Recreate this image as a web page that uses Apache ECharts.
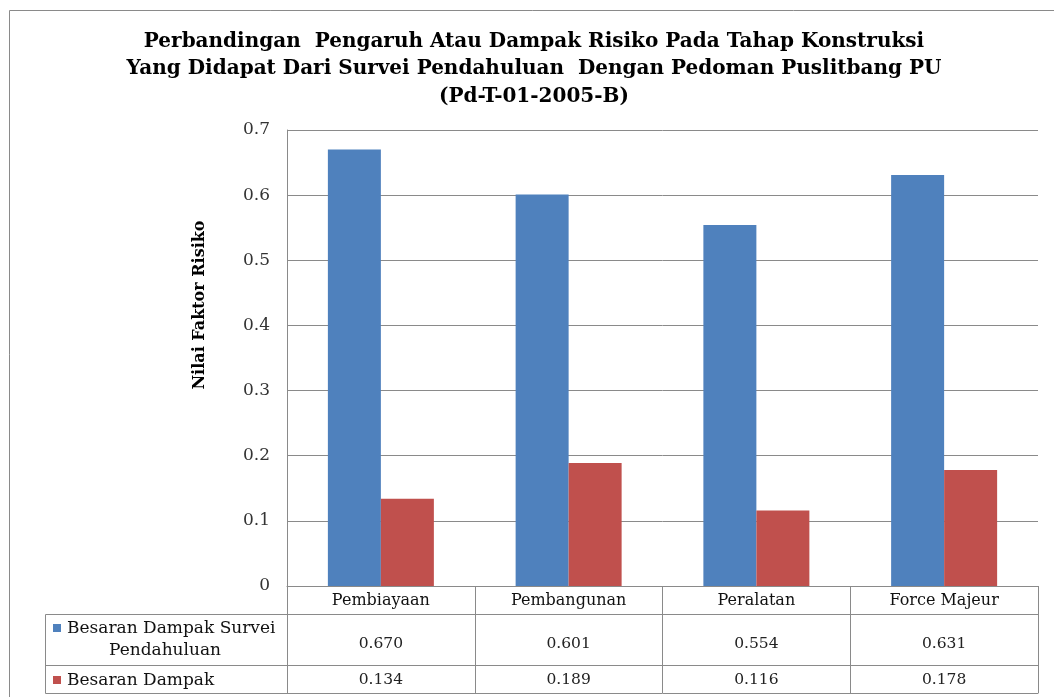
<!DOCTYPE html>
<html>
<head>
<meta charset="utf-8">
<style>
  html, body { margin: 0; padding: 0; background: #ffffff; }
  #chart { width: 1054px; height: 697px; }
</style>
<script src="https://cdn.jsdelivr.net/npm/echarts@6/dist/echarts.min.js"></script>
</head>
<body>
<div id="chart"></div>
<script>
// Risk factor values per construction-stage category
const categories = ['Pembiayaan', 'Pembangunan', 'Peralatan', 'Force Majeur'];
const surveiValues = [0.670, 0.601, 0.554, 0.631];
const dampakValues = [0.134, 0.189, 0.116, 0.178];
const seriesNames = ['Besaran Dampak Survei Pendahuluan', 'Besaran Dampak'];
const titleLines = [
  'Perbandingan  Pengaruh Atau Dampak Risiko Pada Tahap Konstruksi',
  'Yang Didapat Dari Survei Pendahuluan  Dengan Pedoman Puslitbang PU',
  '(Pd-T-01-2005-B)'
];
const yAxisTitle = 'Nilai Faktor Risiko';

const BLUE = '#4F81BD';
const RED = '#C0504D';
const LINE = '#8a8a8a';
const SERIF = '"DejaVu Serif", "Liberation Serif", serif';

// plot area and data-table geometry
const GRID = { left: 287, right: 16, top: 130, bottom: 111 };
const ROW_HEAD = 28, ROW_A = 51, ROW_B = 28;
const axisY = 697 - GRID.bottom;
const LABEL_LEFT = 45;

const chart = echarts.init(document.getElementById('chart'), null, { renderer: 'canvas' });

function tableAxis(offset, tickLen, margin, labelFn, showLabel) {
  return {
    type: 'category',
    data: categories,
    position: 'bottom',
    offset: offset,
    gridIndex: 0,
    axisLine: { show: true, lineStyle: { color: LINE, width: 1 } },
    axisTick: { show: tickLen > 0, interval: 0, alignWithLabel: false, length: tickLen,
                lineStyle: { color: LINE, width: 1 } },
    axisLabel: { show: showLabel, interval: 0, margin: margin, verticalAlign: 'middle',
                 fontFamily: SERIF, fontSize: 15.5, color: '#222', formatter: labelFn },
    splitLine: { show: false }
  };
}

const option = {
  animation: false,
  backgroundColor: '#ffffff',
  grid: { left: GRID.left, right: GRID.right, top: GRID.top, bottom: GRID.bottom, containLabel: false },
  xAxis: [
    Object.assign(tableAxis(0, ROW_HEAD, 15, (v) => v, true), {
      axisLabel: { show: true, interval: 0, margin: 15, verticalAlign: 'middle',
                   fontFamily: SERIF, fontSize: 16, color: '#111' }
    }),
    tableAxis(ROW_HEAD, ROW_A, 30, (v, i) => surveiValues[i].toFixed(3), true),
    tableAxis(ROW_HEAD + ROW_A, ROW_B, 15, (v, i) => dampakValues[i].toFixed(3), true),
    tableAxis(ROW_HEAD + ROW_A + ROW_B, 0, 0, () => '', false)
  ],
  yAxis: {
    type: 'value',
    min: 0,
    max: 0.7,
    interval: 0.1,
    axisLine: { show: true, lineStyle: { color: LINE, width: 1 } },
    axisTick: { show: false },
    axisLabel: { margin: 17, fontFamily: SERIF, fontSize: 17, color: '#333',
                 formatter: (v) => (v === 0 ? '0' : v.toFixed(1)) },
    splitLine: { show: true, lineStyle: { color: LINE, width: 1 } }
  },
  series: [
    { name: seriesNames[0], type: 'bar', data: surveiValues, xAxisIndex: 0,
      barWidth: 53, barGap: '0%', itemStyle: { color: BLUE } },
    { name: seriesNames[1], type: 'bar', data: dampakValues, xAxisIndex: 0,
      barWidth: 53, barGap: '0%', itemStyle: { color: RED } }
  ],
  graphic: [
    // outer frame of the chart
    { type: 'rect', z: 0, silent: true,
      shape: { x: 9.5, y: 10.5, width: 1200, height: 1000 },
      style: { fill: null, stroke: LINE, lineWidth: 1 } },
    // title
    { type: 'text', z: 10, silent: true, x: 534, y: 28,
      style: { text: titleLines.join('\n'), align: 'center', verticalAlign: 'top',
               font: 'bold 20px ' + SERIF, fill: '#000', lineHeight: 27.5 } },
    // vertical axis title
    { type: 'text', z: 10, silent: true, x: 200, y: 305, rotation: Math.PI / 2,
      style: { text: yAxisTitle, align: 'center', verticalAlign: 'middle',
               font: 'bold 16px ' + SERIF, fill: '#000' } },
    // legend cells of the data table
    { type: 'rect', z: 5, silent: true,
      shape: { x: LABEL_LEFT + 0.5, y: axisY + ROW_HEAD + 0.5, width: GRID.left - LABEL_LEFT,
               height: ROW_A + ROW_B },
      style: { fill: null, stroke: LINE, lineWidth: 1 } },
    { type: 'line', z: 5, silent: true,
      shape: { x1: LABEL_LEFT, y1: axisY + ROW_HEAD + ROW_A + 0.5,
               x2: GRID.left, y2: axisY + ROW_HEAD + ROW_A + 0.5 },
      style: { stroke: LINE, lineWidth: 1 } },
    { type: 'rect', z: 6, silent: true,
      shape: { x: 53, y: axisY + 38, width: 8, height: 8 }, style: { fill: BLUE } },
    { type: 'text', z: 6, silent: true, x: 67, y: axisY + 43,
      style: { text: 'Besaran Dampak Survei', align: 'left', verticalAlign: 'middle',
               font: '17px ' + SERIF, fill: '#111' } },
    { type: 'text', z: 6, silent: true, x: 165, y: axisY + 65,
      style: { text: 'Pendahuluan', align: 'center', verticalAlign: 'middle',
               font: '17px ' + SERIF, fill: '#111' } },
    { type: 'rect', z: 6, silent: true,
      shape: { x: 53, y: axisY + 90, width: 8, height: 8 }, style: { fill: RED } },
    { type: 'text', z: 6, silent: true, x: 67, y: axisY + 95,
      style: { text: 'Besaran Dampak', align: 'left', verticalAlign: 'middle',
               font: '17px ' + SERIF, fill: '#111' } }
  ]
};

chart.setOption(option);
</script>
</body>
</html>
